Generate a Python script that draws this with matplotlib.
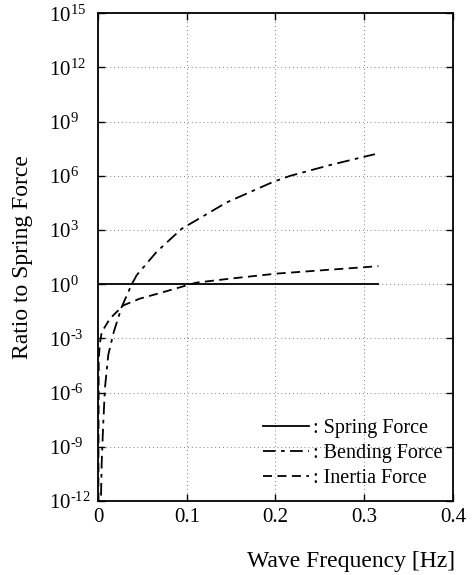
import numpy as np
import matplotlib
matplotlib.use('Agg')
import matplotlib.pyplot as plt
from matplotlib.ticker import FixedLocator, FixedFormatter

plt.rcParams['font.family'] = 'Liberation Serif'
plt.rcParams['mathtext.fontset'] = 'custom'
plt.rcParams['mathtext.rm'] = 'Liberation Serif'
plt.rcParams['mathtext.it'] = 'Liberation Serif'

# values (exponents of the ratio)
spring_f = [0.0, 0.316]
spring_exp = [0.0, 0.0]

bend_f = [0.0034, 0.0042, 0.006, 0.0079, 0.0116, 0.018, 0.0267, 0.038, 0.0436,
          0.066, 0.094, 0.145, 0.198, 0.2165, 0.2616, 0.312]
bend_exp = [-11.7, -9.8, -7.6, -5.7, -3.9, -2.6, -1.26, 0.0, 0.5,
            1.79, 3.06, 4.53, 5.68, 6.0, 6.6, 7.2]

inertia_f = [0.0004, 0.0008, 0.002, 0.0042, 0.0135, 0.0285, 0.047, 0.074,
             0.1, 0.111, 0.149, 0.2015, 0.26, 0.316]
inertia_exp = [-12.0, -4.2, -3.3, -2.65, -1.9, -1.17, -0.8, -0.43,
               -0.06, 0.09, 0.31, 0.59, 0.8, 1.0]

xticks = [0, 0.1, 0.2, 0.3, 0.4]
xticklabels = ['0', '0.1', '0.2', '0.3', '0.4']
yexps = [-12, -9, -6, -3, 0, 3, 6, 9, 12, 15]

fig = plt.figure(figsize=(4.73, 5.75), dpi=100)
ax = fig.add_axes([0.2072, 0.1287, 0.7505, 0.8482])

ax.plot(spring_f, 10.0 ** np.array(spring_exp), color='black', lw=1.3,
        label=': Spring Force')
ax.plot(bend_f, 10.0 ** np.array(bend_exp), color='black', lw=1.3,
        dashes=(7, 3, 2, 3), label=': Bending Force')
ax.plot(inertia_f, 10.0 ** np.array(inertia_exp), color='black', lw=1.3,
        dashes=(5, 3), label=': Inertia Force')

ax.set_yscale('log')
ax.set_xlim(0, 0.4)
ax.set_ylim(1e-12, 1e15)
ax.xaxis.set_major_locator(FixedLocator(xticks))
ax.xaxis.set_major_formatter(FixedFormatter(xticklabels))
ax.yaxis.set_major_locator(FixedLocator([10.0 ** e for e in yexps]))
ax.yaxis.set_major_formatter(FixedFormatter([r'$10^{\text{%d}}$' % e for e in yexps]))
ax.yaxis.set_minor_locator(FixedLocator([]))

ax.tick_params(direction='in', length=5, width=1, top=True, right=True)
ax.tick_params(axis='x', labelsize=15, pad=5)
ax.tick_params(axis='y', labelsize=15, pad=35)
for lab in ax.get_yticklabels():
    lab.set_horizontalalignment('left')
ax.grid(True, linestyle=(0, (1, 3)), color='gray', lw=0.7)
for s in ax.spines.values():
    s.set_linewidth(1.3)

fig.text(0.047, 0.553, 'Ratio to Spring Force', fontsize=17, rotation=90,
         ha='center', va='center')
fig.text(0.962, 0.024, 'Wave Frequency [Hz]', fontsize=17, ha='right', va='center')

ax.legend(loc='center', bbox_to_anchor=(0.717, 0.098), frameon=False,
          fontsize=14.5, handlelength=2.3, handletextpad=0.2, labelspacing=0.3)

fig.savefig('out.png', dpi=100)
